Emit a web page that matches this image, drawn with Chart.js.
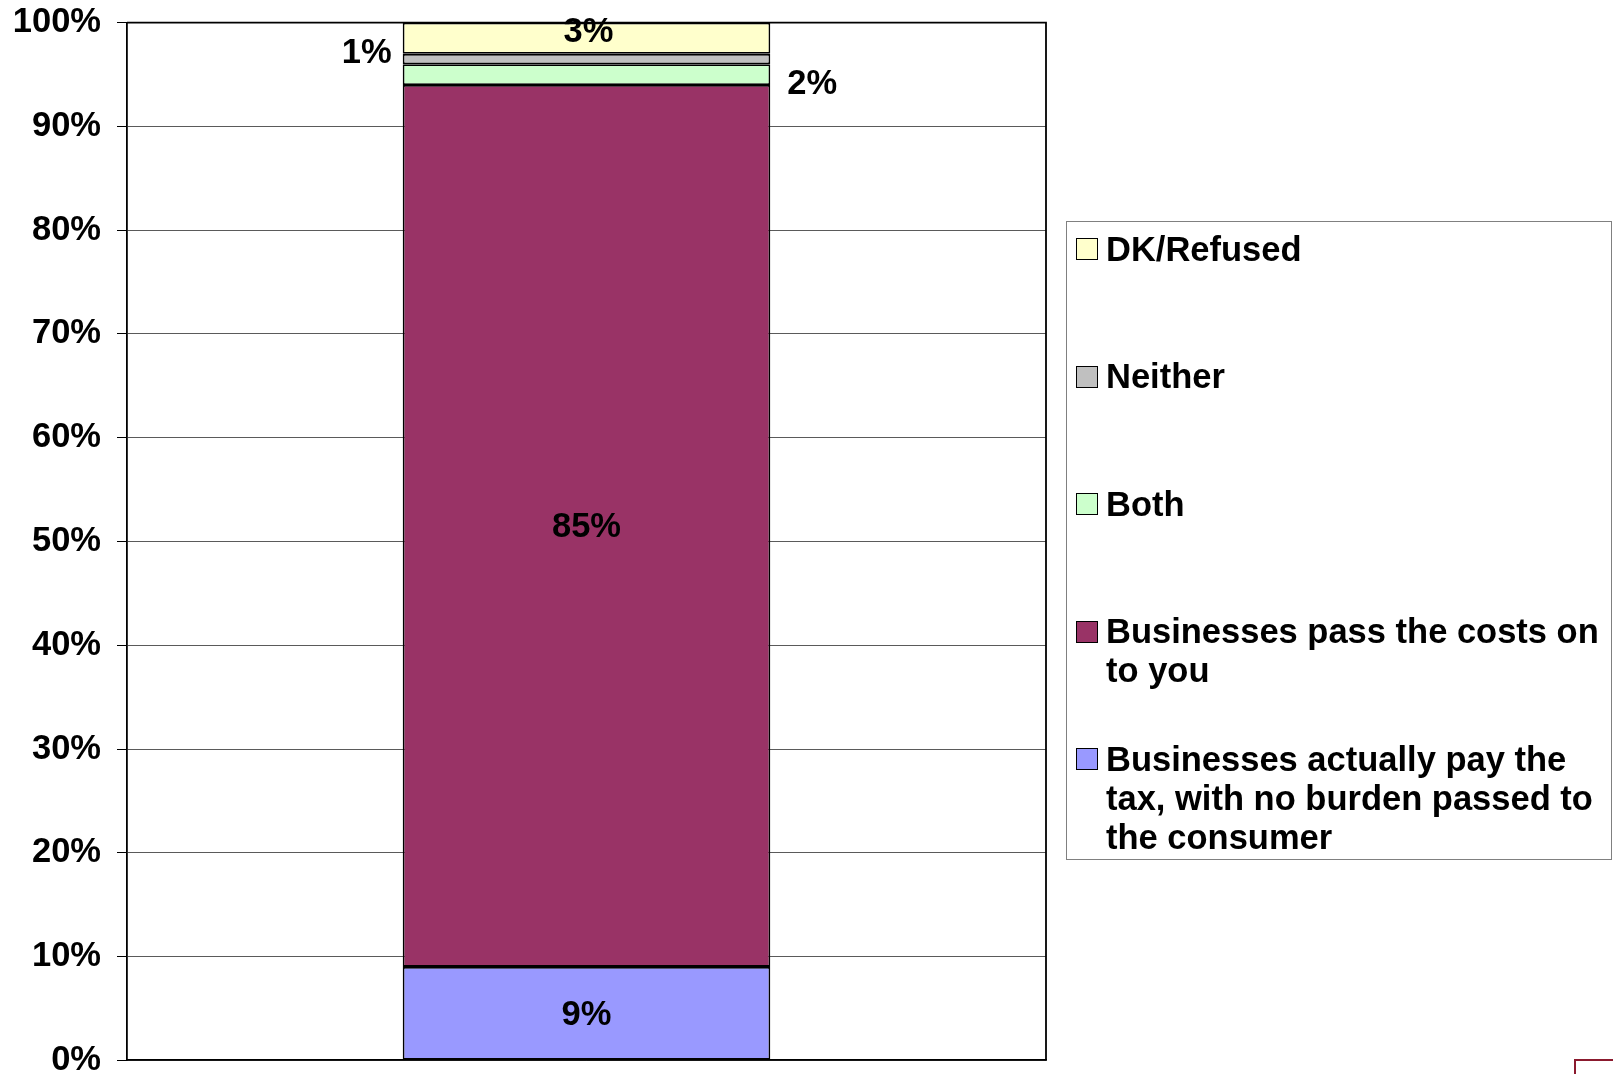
<!DOCTYPE html>
<html>
<head>
<meta charset="utf-8">
<script src="https://cdn.jsdelivr.net/npm/chart.js@4"></script>
<style>
  html, body { margin: 0; padding: 0; background: #fff; }
  body { width: 1613px; height: 1074px; position: relative; overflow: hidden; font-family: "Liberation Sans", Arial, sans-serif; }
  #wrap { position: absolute; left: 0; top: -14px; width: 1613px; height: 1111px; }
  #legend { position: absolute; left: 1066px; top: 221px; width: 546px; height: 639px; border: 1px solid #808080; box-sizing: border-box; }
  .item { position: absolute; left: 9px; width: 530px; display: flex; align-items: flex-start; font-weight: bold; font-size: 34.5px; line-height: 39px; color: #000; }
  .sw { width: 20px; height: 20px; border: 1.5px solid #000; margin-top: 8.5px; margin-right: 8px; flex: none; }
  #logo { position: absolute; left: 1574px; top: 1059px; width: 60px; height: 30px; border: 2px solid #8b1a2e; }
</style>
</head>
<body>
<div id="wrap"><canvas id="taxChart" width="1613" height="1111"></canvas></div>
<div id="legend"></div>
<div id="logo"></div>
<script>
// data, bottom segment first
const categories = [''];
const seriesNames = [
    'Businesses actually pay the tax, with no burden passed to the consumer',
    'Businesses pass the costs on to you',
    'Both',
    'Neither',
    'DK/Refused'
];
const seriesValues = [[9], [85], [2], [1], [3]];
const seriesColors = ['#9999FF', '#993366', '#CCFFCC', '#C0C0C0', '#FFFFCC'];
const yTicks = [0, 10, 20, 30, 40, 50, 60, 70, 80, 90, 100];

const FONT = '"Liberation Sans", Arial, sans-serif';

// frame on the right and top of the plot area
const plotFrame = {
    id: 'plotFrame',
    beforeDatasetsDraw(chart) {
        const { ctx, chartArea: a } = chart;
        ctx.save();
        ctx.strokeStyle = '#000';
        ctx.lineWidth = 1.8;
        ctx.beginPath();
        ctx.moveTo(a.left, a.top);
        ctx.lineTo(a.right, a.top);
        ctx.lineTo(a.right, a.bottom);
        ctx.stroke();
        ctx.restore();
    }
};

// percentage labels next to / inside each segment
const valueLabels = {
    id: 'valueLabels',
    afterDatasetsDraw(chart, args, opts) {
        const ctx = chart.ctx;
        ctx.save();
        ctx.font = 'bold 34.5px ' + FONT;
        ctx.fillStyle = '#000';
        ctx.textBaseline = 'middle';
        chart.data.datasets.forEach((ds, i) => {
            const bar = chart.getDatasetMeta(i).data[0];
            const p = opts.place[i];
            const cy = (bar.y + bar.base) / 2 + p.dy;
            let x = bar.x;
            ctx.textAlign = 'center';
            if (p.side === 'left') {
                x = bar.x - bar.width / 2 - p.gap;
                ctx.textAlign = 'right';
            } else if (p.side === 'right') {
                x = bar.x + bar.width / 2 + p.gap;
                ctx.textAlign = 'left';
            }
            ctx.fillText(ds.data[0] + '%', x + (p.dx || 0), cy);
        });
        ctx.restore();
    }
};

const datasets = seriesNames.map((name, i) => ({
    label: name,
    data: seriesValues[i],
    backgroundColor: seriesColors[i],
    borderColor: '#000',
    borderWidth: 1.8,
    borderSkipped: false,
    barPercentage: 0.4,
    categoryPercentage: 1
}));

const ctx = document.getElementById('taxChart').getContext('2d');
new Chart(ctx, {
    type: 'bar',
    data: { labels: categories, datasets: datasets },
    options: {
        responsive: false,
        animation: false,
        layout: { padding: { left: 0, right: 567, top: 21, bottom: 14 } },
        plugins: {
            legend: { display: false },
            tooltip: { enabled: false },
            valueLabels: {
                place: [
                    { side: 'center', dy: 2 },
                    { side: 'center', dy: 2 },
                    { side: 'right', gap: 17, dy: 10 },
                    { side: 'left', gap: 11, dy: -6 },
                    { side: 'center', dy: -6, dx: 2 }
                ]
            }
        },
        scales: {
            x: {
                stacked: true,
                grid: { display: false },
                border: { display: true, color: '#000', width: 1.8 },
                ticks: { display: false },
                afterFit: s => { s.height = 0; }
            },
            y: {
                stacked: true,
                min: 0,
                max: 100,
                afterBuildTicks: s => { s.ticks = yTicks.map(v => ({ value: v })); },
                ticks: {
                    callback: v => v + '%',
                    color: '#000',
                    padding: 16,
                    font: { family: FONT, size: 34.5, weight: 'bold' }
                },
                grid: { color: '#5a5a5a', tickColor: '#000', tickLength: 10, lineWidth: 1 },
                border: { color: '#000', width: 1.8 },
                afterFit: s => { s.width = 127; }
            }
        }
    },
    plugins: [plotFrame, valueLabels]
});

// legend, top segment first
const legend = document.getElementById('legend');
seriesNames.slice().reverse().forEach((name, k) => {
    const i = seriesNames.length - 1 - k;
    const item = document.createElement('div');
    item.className = 'item';
    item.style.top = (7.5 + k * 127.6) + 'px';
    const sw = document.createElement('span');
    sw.className = 'sw';
    sw.style.background = seriesColors[i];
    const txt = document.createElement('span');
    txt.textContent = name;
    item.appendChild(sw);
    item.appendChild(txt);
    legend.appendChild(item);
});
</script>
</body>
</html>
